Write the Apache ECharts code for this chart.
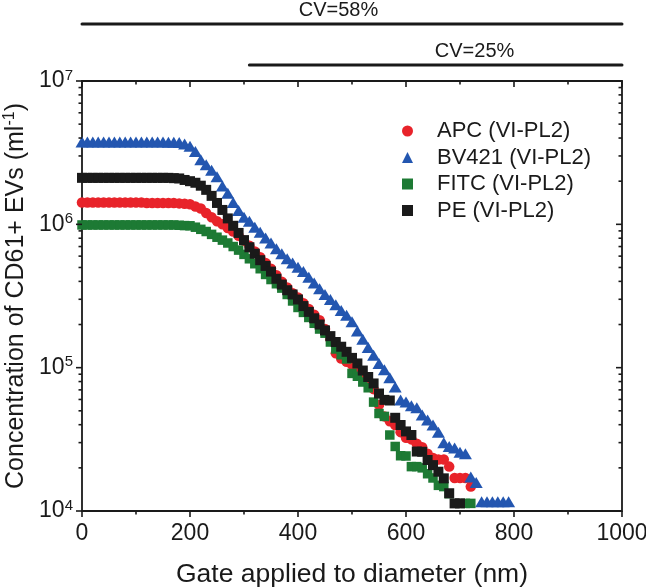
<!DOCTYPE html>
<html><head><meta charset="utf-8">
<script src="https://cdn.jsdelivr.net/npm/echarts@6/dist/echarts.min.js"></script>
<style>html,body{margin:0;padding:0;background:#fff}#c{width:646px;height:587px}</style>
</head><body><div id="c"></div>
<script>
// Gate applied to diameter (nm)
const gates = [0,10,20,30,40,50,60,70,80,90,100,110,120,130,140,150,160,170,180,190,200,210,220,230,240,250,260,270,280,290,300,310,320,330,340,350,360,370,380,390,400,410,420,430,440,450,460,470,480,490,500,510,520,530,540,550,560,570,580,590,600,610,620,630,640,650,660,670,680,690,700,710,720,730,740,750,760,770,780,790];

const apc = [1.42e6,1.42e6,1.42e6,1.42e6,1.42e6,1.42e6,1.42e6,1.42e6,1.42e6,1.42e6,
1.42e6,1.42e6,1.41e6,1.41e6,1.41e6,1.41e6,1.41e6,1.41e6,1.40e6,1.39e6,
1.38e6,1.33e6,1.29e6,1.20e6,1.12e6,1.05e6,1.00e6,9.44e5,8.91e5,8.32e5,
7.67e5,7.08e5,6.46e5,5.89e5,5.37e5,4.90e5,4.42e5,3.98e5,3.63e5,3.31e5,
3.09e5,2.82e5,2.57e5,2.34e5,2.14e5,1.86e5,1.58e5,1.26e5,1.16e5,1.10e5,
1.05e5,9.77e4,8.91e4,8.13e4,7.08e4,5.50e4,4.57e4,4.22e4,3.98e4,3.55e4,
3.24e4,3.16e4,2.95e4,2.79e4,2.51e4,2.34e4,2.29e4,2.29e4,2.04e4,1.70e4,
1.70e4,1.70e4,1.48e4];

const bv421 = [3.76e6,3.76e6,3.76e6,3.76e6,3.76e6,3.76e6,3.76e6,3.76e6,3.76e6,3.76e6,
3.75e6,3.75e6,3.75e6,3.75e6,3.75e6,3.75e6,3.74e6,3.74e6,3.72e6,3.63e6,
3.51e6,3.22e6,2.82e6,2.60e6,2.38e6,2.15e6,1.85e6,1.65e6,1.42e6,1.25e6,
1.12e6,1.05e6,9.55e5,8.81e5,8.04e5,7.41e5,6.76e5,6.24e5,5.75e5,5.37e5,
5.01e5,4.68e5,4.27e5,3.89e5,3.55e5,3.24e5,2.99e5,2.75e5,2.51e5,2.32e5,
2.09e5,1.80e5,1.58e5,1.38e5,1.22e5,1.07e5,9.66e4,8.51e4,7.33e4,5.96e4,
5.75e4,5.43e4,5.25e4,4.68e4,4.32e4,3.98e4,3.55e4,2.99e4,2.82e4,2.75e4,
2.57e4,2.51e4,1.73e4,1.58e4,1.16e4,1.16e4,1.16e4,1.16e4,1.16e4,1.16e4];

const fitc = [9.9e5,9.9e5,9.9e5,9.9e5,9.9e5,9.9e5,9.9e5,9.9e5,9.9e5,9.9e5,
9.9e5,9.9e5,9.9e5,9.9e5,9.9e5,9.9e5,9.9e5,9.9e5,9.85e5,9.8e5,
9.77e5,9.55e5,9.23e5,8.91e5,8.51e5,8.13e5,7.76e5,7.41e5,7.00e5,6.61e5,
6.17e5,5.75e5,5.31e5,4.90e5,4.47e5,4.12e5,3.85e5,3.59e5,3.24e5,2.92e5,
2.63e5,2.43e5,2.24e5,2.04e5,1.86e5,1.74e5,1.51e5,1.35e5,1.23e5,1.15e5,
9.12e4,8.71e4,7.94e4,7.24e4,5.75e4,4.79e4,4.57e4,3.39e4,2.82e4,2.43e4,
2.42e4,2.04e4,2.04e4,2.00e4,1.82e4,1.70e4,1.51e4,1.48e4,1.32e4,null,
null,1.13e4,1.13e4];

const pe = [2.11e6,2.11e6,2.11e6,2.11e6,2.11e6,2.11e6,2.11e6,2.11e6,2.11e6,2.11e6,
2.11e6,2.11e6,2.11e6,2.11e6,2.11e6,2.11e6,2.11e6,2.10e6,2.09e6,2.04e6,
2.00e6,1.95e6,1.86e6,1.74e6,1.58e6,1.41e6,1.26e6,1.10e6,9.77e5,8.71e5,
7.76e5,6.92e5,6.24e5,5.62e5,5.13e5,4.68e5,4.17e5,3.80e5,3.47e5,3.24e5,
2.99e5,2.69e5,2.45e5,2.21e5,2.00e5,1.82e5,1.66e5,1.51e5,1.40e5,1.29e5,
1.17e5,1.07e5,9.55e4,8.61e4,7.76e4,6.60e4,5.96e4,5.90e4,4.47e4,3.98e4,
3.59e4,3.39e4,2.60e4,2.59e4,2.27e4,2.09e4,1.88e4,1.69e4,1.33e4,1.13e4,
1.13e4];

const seriesNames = ['APC (VI-PL2)','BV421 (VI-PL2)','FITC (VI-PL2)','PE (VI-PL2)'];
const xTickValues = [0,100,200,300,400,500,600,700,800,900,1000];
const yMajorTicks = [1e4,1e5,1e6,1e7];
const yMinorTicks = [2e4,3e4,4e4,5e4,6e4,7e4,8e4,9e4,2e5,3e5,4e5,5e5,6e5,7e5,8e5,9e5,2e6,3e6,4e6,5e6,6e6,7e6,8e6,9e6];
const cvStart = [0,310];
const cvEnd = [1000,1000];
const cvText = ['CV=58%','CV=25%'];
const cvTextAt = [475,727];

const FONT = '"Liberation Sans", Arial, Helvetica, sans-serif';
const INK = '#1a1a1a';

function pairs(arr){ const out=[]; arr.forEach((v,i)=>{ if(v!=null) out.push([gates[i],v]); }); return out; }

const chart = echarts.init(document.getElementById('c'), null, {renderer:'canvas'});

function hiddenAxisParts(){
  return {axisLine:{show:false}, axisTick:{show:false}, minorTick:{show:false}, splitLine:{show:false}, minorSplitLine:{show:false}};
}

const option = {
  animation:false,
  backgroundColor:'#fff',
  grid:{left:82, right:24, top:81, bottom:76, outerBoundsMode:'none', containLabel:false,
        show:true, borderColor:INK, borderWidth:1.8, backgroundColor:'transparent'},
  legend:{
    orient:'vertical', left:397, top:115, itemGap:4.5,
    itemWidth:11, itemHeight:11,
    textStyle:{fontFamily:FONT, fontSize:22, color:INK, padding:[0,0,0,19]},
    data:[{name:seriesNames[0],icon:'circle'},{name:seriesNames[1],icon:'triangle'},{name:seriesNames[2],icon:'rect'},{name:seriesNames[3],icon:'rect'}],
    selectedMode:false
  },
  xAxis:[Object.assign({type:'value', min:0, max:1000, interval:200, position:'bottom',
     axisLabel:{fontFamily:FONT, fontSize:23, color:INK, margin:11, formatter:v=>String(v)},
     name:'Gate applied to diameter (nm)', nameLocation:'middle', nameGap:50,
     nameTextStyle:{fontFamily:FONT, fontSize:26.5, color:INK}}, hiddenAxisParts())],
  yAxis:[Object.assign({type:'log', logBase:10, min:1e4, max:1e7, position:'left',
     axisLabel:{margin:9, formatter:v=>'{b|10}{s|'+Math.round(Math.log10(v))+'}',
       rich:{b:{fontFamily:FONT, fontSize:23, color:INK}, s:{fontFamily:FONT, fontSize:15, color:INK, padding:[0,0,11,0]}}},
     name:'Concentration of CD61+ EVs (ml{s|-1})', nameLocation:'middle', nameGap:50, nameRotate:90,
     nameTextStyle:{fontFamily:FONT, fontSize:25, color:INK, rich:{s:{fontFamily:FONT, fontSize:16, color:INK, padding:[0,0,12,0]}}}}, hiddenAxisParts())],
  series:[
    {name:seriesNames[0], type:'scatter', symbol:'circle', symbolSize:10.5, itemStyle:{color:'#e8232a', opacity:1}, data:pairs(apc), z:2},
    {name:seriesNames[1], type:'scatter', symbol:'triangle', symbolSize:[13,11], itemStyle:{color:'#2356b0', opacity:1}, data:pairs(bv421), z:3},
    {name:seriesNames[2], type:'scatter', symbol:'rect', symbolSize:9.5, itemStyle:{color:'#1d7a34', opacity:1}, data:pairs(fitc), z:4},
    {name:seriesNames[3], type:'scatter', symbol:'rect', symbolSize:10, itemStyle:{color:'#1a1a1a', opacity:1}, data:pairs(pe), z:5},
    // x ticks: bottom outward, top inward
    {type:'custom', silent:true, clip:false, z:10,
     data:xTickValues.map(v=>[v,1e4]),
     renderItem:(params, api)=>{
       const v = api.value(0);
       const b = api.coord([v, 1e4]);
       const t = api.coord([v, 1e7]);
       const len = (v % 200 === 0) ? 6 : 3.5;
       return {type:'group', children:[
         {type:'line', shape:{x1:b[0], y1:b[1], x2:b[0], y2:b[1]+len}, style:{stroke:INK, lineWidth:1.6}},
         {type:'line', shape:{x1:t[0], y1:t[1], x2:t[0], y2:t[1]+len}, style:{stroke:INK, lineWidth:1.6}}
       ]};
     }},
    // y ticks: left outward, right inward
    {type:'custom', silent:true, clip:false, z:10,
     data:yMajorTicks.map(v=>[0,v,1]).concat(yMinorTicks.map(v=>[0,v,0])),
     renderItem:(params, api)=>{
       const len = api.value(2) ? 6 : 3.5;
       const l = api.coord([0, api.value(1)]);
       const r = api.coord([1000, api.value(1)]);
       return {type:'group', children:[
         {type:'line', shape:{x1:l[0]-len, y1:l[1], x2:l[0], y2:l[1]}, style:{stroke:INK, lineWidth:1.6}},
         {type:'line', shape:{x1:r[0]-len, y1:r[1], x2:r[0], y2:r[1]}, style:{stroke:INK, lineWidth:1.6}}
       ]};
     }},
    {type:'custom', silent:true, clip:false, z:10,
     data:cvStart.map((s,i)=>[s, 1e7, cvEnd[i], cvTextAt[i], i]),
     encode:{x:0, y:1},
     renderItem:(params, api)=>{
       const i = api.value(4);
       const a = api.coord([api.value(0), 1e7]);
       const b = api.coord([api.value(2), 1e7]);
       const t = api.coord([api.value(3), 1e7]);
       const y = a[1] - (i === 0 ? 57 : 16);
       return {type:'group', children:[
         {type:'line', shape:{x1:a[0], y1:y, x2:b[0], y2:y}, style:{stroke:INK, lineWidth:3, lineCap:'round'}},
         {type:'text', style:{text:cvText[i], x:t[0], y:y-4, align:'center', verticalAlign:'bottom', fontFamily:FONT, fontSize:20, fill:INK}}
       ]};
     }}
  ]
};
chart.setOption(option);
</script>
</body></html>
